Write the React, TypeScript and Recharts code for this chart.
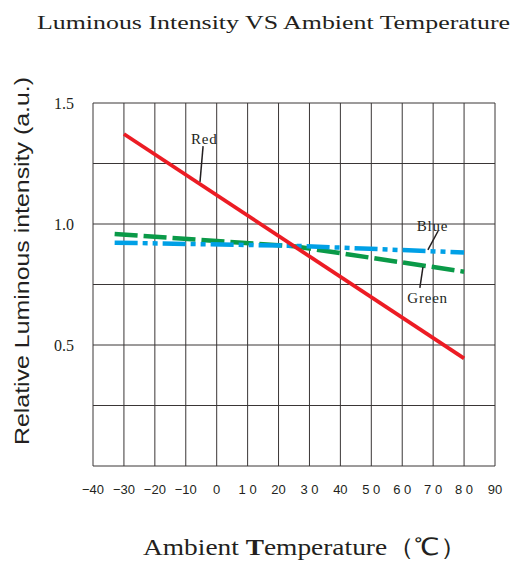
import React from "react";
import {
  LineChart,
  Line,
  CartesianGrid,
  XAxis,
  YAxis,
  ReferenceLine,
  ReferenceDot,
} from "recharts";

// temperature (°C) and relative intensity
const redTemp = [-30, 80];
const redValues = [1.372, 0.445];
const greenTemp = [-33, 25, 80];
const greenValues = [0.959, 0.908, 0.803];
const blueTemp = [-33, 25, 80];
const blueValues = [0.923, 0.91, 0.882];

const xTicks = [-40, -30, -20, -10, 0, 10, 20, 30, 40, 50, 60, 70, 80, 90];
const xTickLabels = ["−40", "−30", "−20", "−10", "0", "1 0", "20", "3 0", "40", "5 0", "6 0", "7 0", "8 0", "90"];
const yTicks = [0, 0.25, 0.5, 0.75, 1.0, 1.25, 1.5];
const yTickLabels = ["", "", "0.5", "", "1.0", "", "1.5"];

// callouts: label position and leader line ends, in data units
const callouts = [
  { name: "Red", at: [-4, 1.351], from: [-4.4, 1.322], to: [-5.4, 1.174] },
  { name: "Blue", at: [69.8, 0.992], from: [71.6, 0.971], to: [68.3, 0.893] },
  { name: "Green", at: [68.2, 0.694], from: [65.7, 0.736], to: [66.7, 0.822] },
];

const toRows = (temps: number[], values: number[]) => temps.map((t, i) => ({ t, v: values[i] }));

const ink = "#231f20";
const serif = "'Liberation Serif', 'Times New Roman', serif";
const sans = "'Liberation Sans', Arial, sans-serif";

export default function App() {
  return (
    <div style={{ position: "absolute", left: 0, top: 0, width: 516, height: 562, background: "#fff" }}>
      <LineChart width={516} height={562} margin={{ top: 103, right: 21, left: 0, bottom: 0 }}>
        <CartesianGrid stroke="#3a3636" strokeWidth={1} />
        <XAxis
          type="number"
          dataKey="t"
          domain={[-40, 90]}
          ticks={xTicks}
          interval={0}
          height={96}
          axisLine={false}
          tickLine={false}
          tickSize={0}
          tickMargin={19}
          tick={{ fontSize: 13, fontFamily: sans, fill: ink }}
          tickFormatter={(v: number) => xTickLabels[xTicks.indexOf(v)]}
          allowDataOverflow
        />
        <YAxis
          type="number"
          domain={[0, 1.5]}
          ticks={yTicks}
          interval={0}
          width={93}
          axisLine={false}
          tickLine={false}
          tickSize={0}
          tickMargin={19}
          tick={{ fontSize: 16, fontFamily: serif, fill: ink }}
          tickFormatter={(v: number) => yTickLabels[yTicks.indexOf(v)]}
          allowDataOverflow
        />
        <Line
          data={toRows(greenTemp, greenValues)}
          dataKey="v"
          stroke="#0a9a48"
          strokeWidth={4.5}
          strokeDasharray="23 6"
          dot={false}
          isAnimationActive={false}
        />
        <Line
          data={toRows(blueTemp, blueValues)}
          dataKey="v"
          stroke="#00a0e6"
          strokeWidth={4.5}
          strokeDasharray="23 5 5 5 5 5"
          dot={false}
          isAnimationActive={false}
        />
        <Line
          data={toRows(redTemp, redValues)}
          dataKey="v"
          stroke="#ec1c24"
          strokeWidth={3.8}
          dot={false}
          isAnimationActive={false}
        />
        {callouts.map((c) => (
          <ReferenceLine
            key={c.name + "-lead"}
            segment={[
              { x: c.from[0], y: c.from[1] },
              { x: c.to[0], y: c.to[1] },
            ]}
            stroke={ink}
            strokeWidth={1.5}
          />
        ))}
        {callouts.map((c) => (
          <ReferenceDot
            key={c.name}
            x={c.at[0]}
            y={c.at[1]}
            r={1}
            fill="none"
            stroke="none"
            label={{
              value: c.name,
              position: "center",
              fontSize: 15,
              fontFamily: serif,
              fill: ink,
              letterSpacing: 0.8,
            }}
          />
        ))}
      </LineChart>
      <svg width={516} height={562} style={{ position: "absolute", left: 0, top: 0, pointerEvents: "none" }}>
        <text x={37} y={29} fontFamily={serif} fontSize={18} fill={ink} textLength={473} lengthAdjust="spacingAndGlyphs">
          Luminous Intensity  VS  Ambient  Temperature
        </text>
        <text x={143} y={555} fontFamily={serif} fontSize={24} fill={ink} textLength={324} lengthAdjust="spacingAndGlyphs">
          Ambient  <tspan fontWeight="bold">T</tspan>emperature（℃）
        </text>
        <text
          x={22}
          y={261}
          transform="rotate(-90, 22, 261)"
          textAnchor="middle"
          dominantBaseline="central"
          fontFamily={sans}
          fontSize={20}
          fill={ink}
          textLength={368}
          lengthAdjust="spacingAndGlyphs"
        >
          Relative Luminous intensity (a.u.)
        </text>
      </svg>
    </div>
  );
}
